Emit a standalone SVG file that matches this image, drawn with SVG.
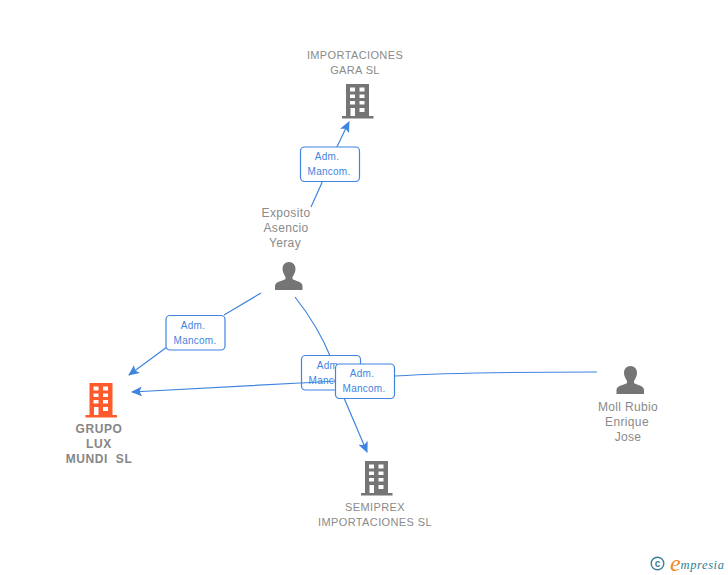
<svg xmlns="http://www.w3.org/2000/svg" xmlns:xlink="http://www.w3.org/1999/xlink" width="728" height="575" viewBox="0 0 728 575">
<style>
text{font-family:"Liberation Sans",Arial,sans-serif}
.n{font-size:11px;fill:#8a8a8a;text-anchor:middle;letter-spacing:.38px}
.p{font-size:12px;fill:#8a8a8a;text-anchor:middle;letter-spacing:.35px}
.g{font-size:12px;font-weight:bold;fill:#868686;text-anchor:middle;letter-spacing:.6px}
.c{fill:none;stroke:#3f84e0;stroke-width:1.2}
.b{fill:#fff;stroke:#3f84e0;stroke-width:1.2}
.t{font-size:10px;fill:#3f84e0;text-anchor:middle;letter-spacing:.25px}
</style>
<defs>
<marker id="a" markerWidth="12" markerHeight="10" refX="10" refY="5" orient="auto" markerUnits="userSpaceOnUse"><path d="M0 0L11 5L0 10L2.500 5Z" fill="#3f84e0"/></marker>
<path id="bld" fill-rule="evenodd" d="M4 0H27V32H31.500V34.500H0V32H4ZM8 3.500V7.500H13V3.500ZM17.500 3.500V7.500H22.500V3.500ZM8 10.500V14H13V10.500ZM17.500 10.500V14H22.500V10.500ZM8 17V20.500H13V17ZM17.500 17V20.500H22.500V17ZM8.500 24V32H13V24ZM17.500 24V28H22.500V24Z"/>
<path id="per" d="M14 0C18 0 20.500 3 20.500 7C20.500 10.500 18.500 13 17.500 15V17C20 19 27.500 19.500 27.500 24V28H0V24C0 19.500 8 19 10.500 17V15C9.500 13 7.500 10.500 7.500 7C7.500 3 10 0 14 0Z" fill="#757575"/>
</defs>
<g id="connectors">
<path class="c" d="M311 207Q321 186 329 165Q337 146 349 122" marker-end="url(#a)"/>
<path class="c" d="M261 293L224 315M167 347L129 375" marker-end="url(#a)"/>
<path class="c" d="M295 297Q318 326 331 358"/>
<path class="c" d="M344 398L367 452" marker-end="url(#a)"/>
<path class="c" d="M597 372Q460 372 395 376L300 383L132 392" marker-end="url(#a)"/>
</g>
<g id="edge-gara"><rect class="b" x="300.500" y="147" width="59" height="34.500" rx="4"/><text class="t" x="327" y="160">Adm.</text><text class="t" x="329" y="175">Mancom.</text></g>
<g id="edge-grupo"><rect class="b" x="166" y="315.500" width="59" height="34.500" rx="4"/><text class="t" x="193" y="329">Adm.</text><text class="t" x="195" y="344">Mancom.</text></g>
<g id="edge-semiprex"><rect class="b" x="301.500" y="355.500" width="59" height="34.500" rx="4"/><text class="t" x="329" y="369">Adm.</text><text class="t" x="330" y="384">Mancom.</text></g>
<path class="c" d="M301.500 383L336 381"/>
<g id="edge-moll"><rect class="b" x="335.500" y="364" width="59" height="34.500" rx="4"/><text class="t" x="362" y="377">Adm.</text><text class="t" x="364" y="392">Mancom.</text></g>
<g id="node-gara"><text class="n" x="355" y="59">IMPORTACIONES</text><text class="n" x="355" y="74">GARA SL</text><use xlink:href="#bld" href="#bld" x="342" y="84" fill="#757575"/></g>
<g id="node-exposito"><text class="p" x="286" y="217">Exposito</text><text class="p" x="286" y="232">Asencio</text><text class="p" x="285" y="247">Yeray</text><use xlink:href="#per" href="#per" x="275" y="262"/></g>
<g id="node-grupo"><use xlink:href="#bld" href="#bld" x="85.500" y="383" fill="#ff5a2b"/><text class="g" x="99" y="433">GRUPO</text><text class="g" x="99" y="448">LUX</text><text class="g" x="99" y="463" xml:space="preserve">MUNDI  SL</text></g>
<g id="node-moll"><use xlink:href="#per" href="#per" x="616.500" y="366"/><text class="p" x="628" y="411">Moll Rubio</text><text class="p" x="627" y="426">Enrique</text><text class="p" x="628" y="441">Jose</text></g>
<g id="node-semiprex"><use xlink:href="#bld" href="#bld" x="361" y="461" fill="#757575"/><text class="n" x="375" y="511">SEMIPREX</text><text class="n" x="375" y="526">IMPORTACIONES SL</text></g>
<g id="logo"><circle cx="657.500" cy="563.500" r="6.300" fill="none" stroke="#3f7f95" stroke-width="1.400"/><text x="657.500" y="567" font-size="10" font-weight="bold" fill="#3f7f95" text-anchor="middle">c</text><text x="670" y="571" font-size="24" font-style="italic" fill="#f08a1d" style="font-family:'Liberation Serif',serif">e</text><text x="680.500" y="569" font-size="12.500" font-style="italic" fill="#2f7f96" style="font-family:'Liberation Serif',serif" letter-spacing=".6">mpresia</text></g>
</svg>
